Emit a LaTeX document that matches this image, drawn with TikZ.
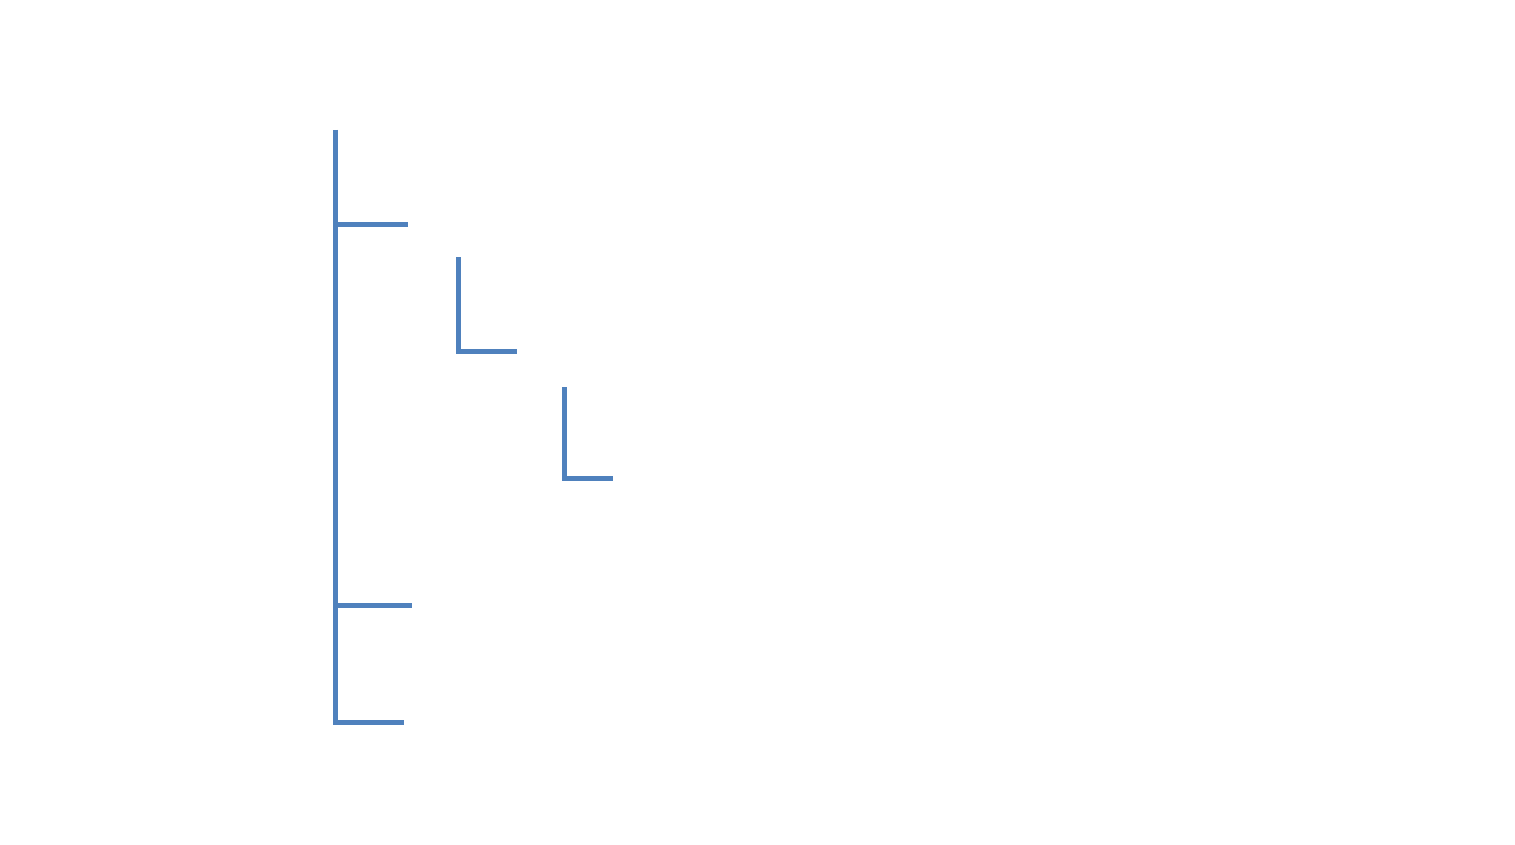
\documentclass[tikz,border=0pt]{standalone}
\begin{document}
\begin{tikzpicture}[x=1pt,y=-1pt,
  bracket/.style={draw=blueline,line width=5pt,line cap=butt,line join=miter},
  shade/.style={draw=black,opacity=0.22,line width=5pt,line cap=butt,line join=miter}]
\definecolor{blueline}{HTML}{4F81BD}
\useasboundingbox[fill=white] (0,0) rectangle (1515,845);
% coordinates
\coordinate (a0) at (335,130);
\coordinate (a1) at (335,225);
\coordinate (a1e) at (408,225);
\coordinate (a2) at (335,605);
\coordinate (a2e) at (412,605);
\coordinate (a3) at (335,722);
\coordinate (a3e) at (404,722);
\coordinate (b0) at (458,257);
\coordinate (b1) at (458,351);
\coordinate (b1e) at (517,351);
\coordinate (c0) at (564,387);
\coordinate (c1) at (564,478);
\coordinate (c1e) at (613,478);
% shadows
\begin{scope}[shift={(2,3)}]
\draw[shade] (a0) -- (a3) -- (a3e);
\draw[shade] (a1) -- (a1e);
\draw[shade] (a2) -- (a2e);
\draw[shade] (b0) -- (b1) -- (b1e);
\draw[shade] (c0) -- (c1) -- (c1e);
\end{scope}
% lines
\draw[bracket] (a0) -- (a3) -- (a3e);
\draw[bracket] (a1) -- (a1e);
\draw[bracket] (a2) -- (a2e);
\draw[bracket] (b0) -- (b1) -- (b1e);
\draw[bracket] (c0) -- (c1) -- (c1e);
\end{tikzpicture}
\end{document}
